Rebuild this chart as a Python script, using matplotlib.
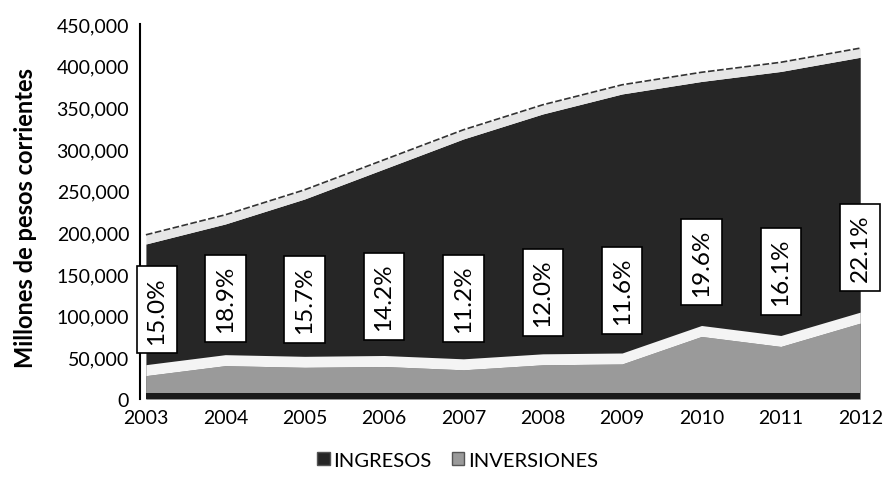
import numpy as np
import matplotlib
matplotlib.use('agg')
import matplotlib.pyplot as plt
from matplotlib.patches import Patch
from matplotlib.ticker import FuncFormatter

plt.rcParams['font.family'] = ['Lato', 'DejaVu Sans']

# datos (millones de pesos corrientes)
years = [2003, 2004, 2005, 2006, 2007, 2008, 2009, 2010, 2011, 2012]
ingresos = [186000, 210000, 240000, 276000, 312000, 342000, 366000, 381000, 393000, 410000]
inversiones = [28000, 40000, 38000, 39000, 35000, 41000, 42000, 75000, 63000, 91000]
pct = ['15.0%', '18.9%', '15.7%', '14.2%', '11.2%', '12.0%', '11.6%', '19.6%', '16.1%', '22.1%']

x = np.array(years)
ing = np.array(ingresos)
inv = np.array(inversiones)

fig = plt.figure(figsize=(8.94, 4.89), dpi=100)
ax = fig.add_axes([0.157, 0.182, 0.807, 0.767])

band = 11000  # cara superior "3D"
ax.fill_between(x, 0, ing, color='#262626', lw=0, zorder=1)
ax.fill_between(x, ing, ing + band, color='#e6e6e6', lw=0, zorder=2)
ax.plot(x, ing + band, color='#333333', lw=1.2, ls=(0, (4, 1.5)), zorder=3)

ax.fill_between(x, 0, inv, color='#9a9a9a', lw=0, zorder=4)
ax.fill_between(x, inv, inv + band * 1.2, color='#f4f4f4', lw=0, zorder=5)
ax.fill_between(x, 0, 7000, color='#1a1a1a', lw=0, zorder=6)

# etiquetas de porcentaje
label_y = inv + 69000 + 0.0536 * ing
for i in range(len(years)):
    dx = 8 if i == 0 else 0
    ax.annotate(pct[i], (x[i], label_y[i]), xytext=(dx, 0), textcoords='offset points',
                rotation=90, ha='center', va='center', fontsize=17.5, zorder=10,
                bbox=dict(boxstyle='square,pad=0.4', fc='white', ec='black', lw=1.2))

ax.set_xlim(2002.93, 2012.02)
ax.set_ylim(0, 450000)
ax.set_yticks(np.arange(0, 450001, 50000))
ax.yaxis.set_major_formatter(FuncFormatter(lambda v, p: '{:,.0f}'.format(v)))
ax.set_xticks(years)
ax.tick_params(axis='both', length=0, labelsize=14)
ax.tick_params(axis='y', pad=8)
ax.tick_params(axis='x', pad=7)

for s in ['top', 'right', 'bottom']:
    ax.spines[s].set_visible(False)
ax.spines['left'].set_linewidth(1.5)

ax.set_ylabel('Millones de pesos corrientes', fontsize=17, fontweight='bold')
ax.yaxis.set_label_coords(-0.143, 0.485)

handles = [Patch(facecolor='#262626', edgecolor='#555555'),
           Patch(facecolor='#9a9a9a', edgecolor='#555555')]
fig.legend(handles, ['INGRESOS', 'INVERSIONES'], loc='center', bbox_to_anchor=(0.512, 0.057),
           ncol=2, frameon=False, fontsize=14.5, handlelength=0.6, handleheight=0.6,
           handletextpad=0.2, columnspacing=1.0)

plt.savefig('out.png', dpi=100)
